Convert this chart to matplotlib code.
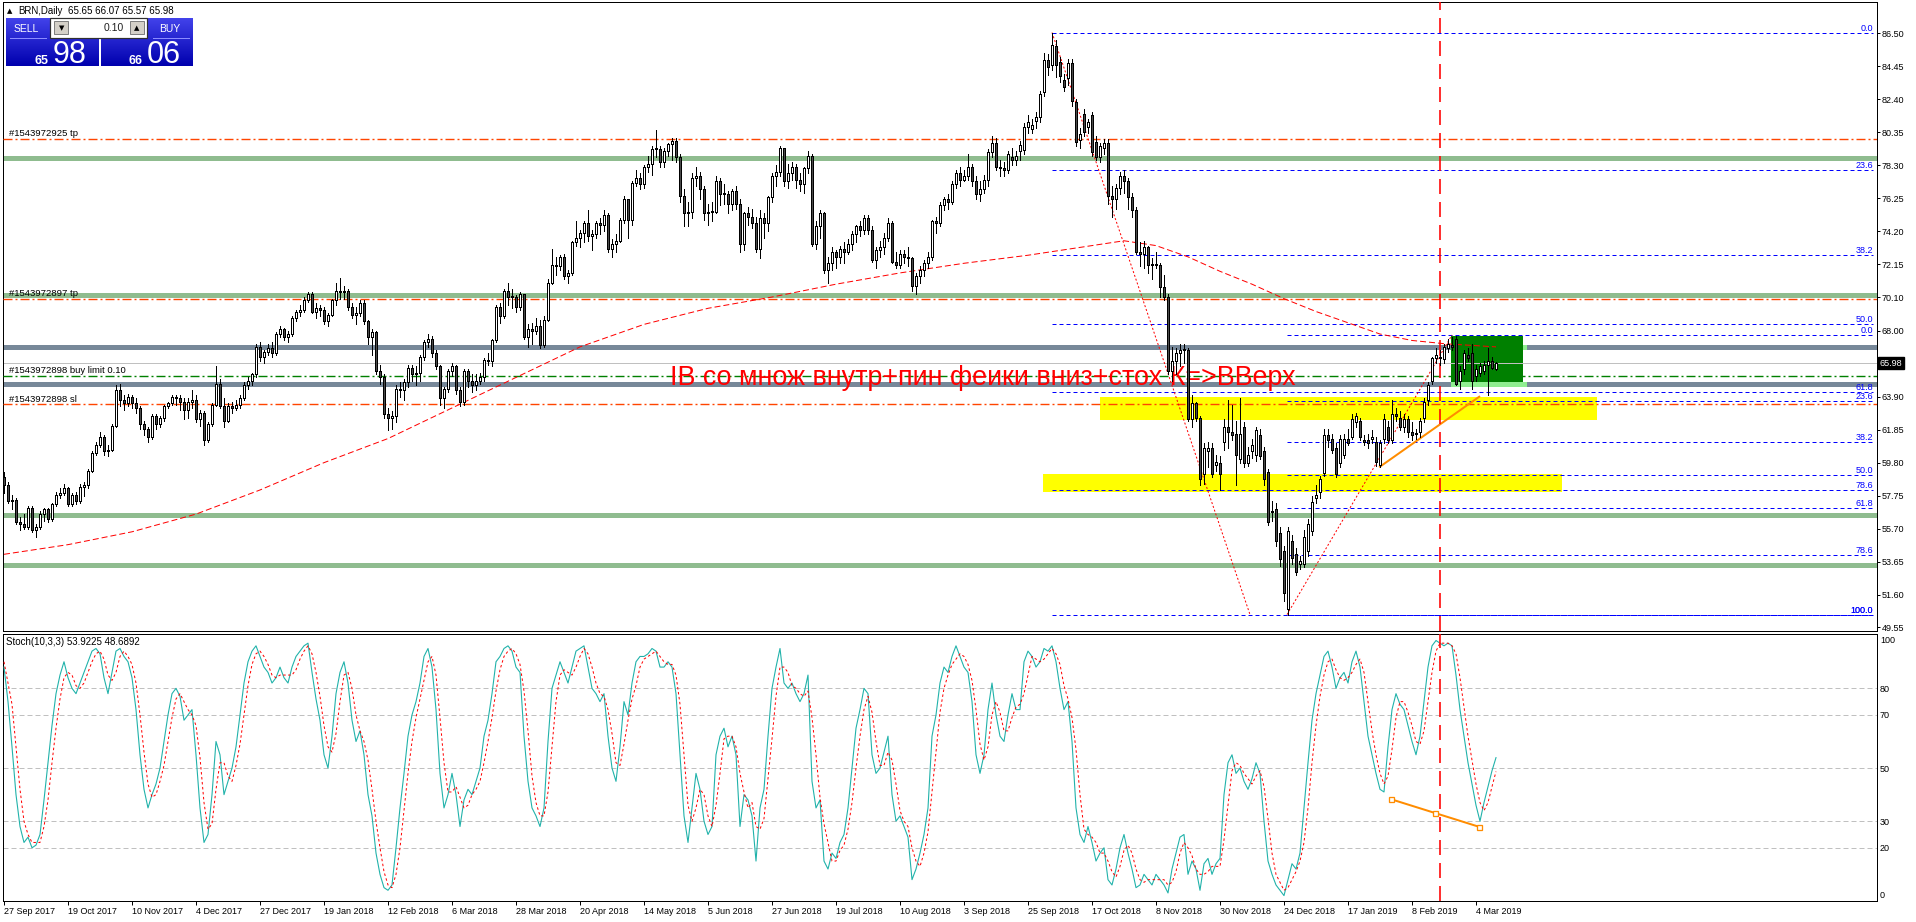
import numpy as np
import matplotlib
matplotlib.use("Agg")
import matplotlib.pyplot as plt
from matplotlib.patches import Rectangle

plt.rcParams['lines.scale_dashes'] = False
plt.rcParams['font.family'] = ['Liberation Sans', 'DejaVu Sans']

W, H = 1916, 922
PX = 0.72  # points per pixel at 100 dpi

# ---------------- data ----------------
date_labels = ["27 Sep 2017", "19 Oct 2017", "10 Nov 2017", "4 Dec 2017", "27 Dec 2017",
               "19 Jan 2018", "12 Feb 2018", "6 Mar 2018", "28 Mar 2018", "20 Apr 2018",
               "14 May 2018", "5 Jun 2018", "27 Jun 2018", "19 Jul 2018", "10 Aug 2018",
               "3 Sep 2018", "25 Sep 2018", "17 Oct 2018", "8 Nov 2018", "30 Nov 2018",
               "24 Dec 2018", "17 Jan 2019", "8 Feb 2019", "4 Mar 2019"]

opens = [
    58.9, 58.4, 57.4, 57.5, 56.1, 56.0, 55.8, 57.0, 55.6, 55.8, 56.6, 56.9, 56.3, 57.2, 57.8, 57.9,
    58.2, 57.2, 57.8, 57.4, 58.3, 58.4, 59.3, 60.4, 60.9, 61.4, 60.5, 60.6, 62.1, 64.3, 63.7, 63.5,
    63.9, 63.5, 63.2, 62.2, 61.9, 61.4, 62.7, 62.2, 62.6, 63.3, 63.5, 63.9, 63.8, 63.6, 63.1, 63.6,
    63.7, 62.5, 62.9, 61.2, 62.2, 63.4, 64.7, 63.3, 62.4, 63.3, 63.2, 63.4, 63.8, 64.6, 64.9, 65.3,
    67.0, 66.4, 66.7, 66.9, 66.6, 67.8, 68.1, 67.6, 67.8, 68.8, 69.2, 69.3, 69.9, 70.3, 69.2, 69.4,
    69.3, 68.6, 69.0, 69.9, 70.5, 70.4, 70.5, 69.5, 69.0, 69.1, 69.7, 68.6, 67.6, 67.9, 65.5, 65.1,
    62.8, 62.6, 62.7, 64.4, 64.3, 64.8, 65.7, 65.3, 65.4, 66.4, 67.3, 67.5, 66.6, 65.8, 63.8, 64.4,
    65.5, 65.8, 64.3, 63.6, 65.5, 64.9, 64.6, 64.9, 65.1, 66.2, 66.1, 67.4, 69.5, 68.9, 70.5, 70.1,
    70.1, 69.5, 70.3, 67.6, 68.1, 68.0, 68.3, 67.1, 68.7, 71.0, 72.1, 72.0, 72.6, 71.4, 71.6, 73.5,
    73.8, 74.1, 74.7, 73.9, 74.0, 74.7, 74.6, 75.2, 73.1, 73.4, 73.6, 74.9, 76.2, 74.9, 77.2, 77.5,
    77.1, 78.2, 78.4, 79.3, 79.3, 78.5, 79.2, 79.6, 79.8, 78.8, 76.4, 75.3, 75.4, 77.5, 77.6, 76.8,
    75.3, 75.4, 75.4, 77.3, 76.5, 76.5, 75.9, 76.7, 75.9, 73.4, 75.3, 75.1, 74.7, 73.1, 75.0, 74.7,
    76.3, 77.6, 77.9, 79.4, 77.3, 77.8, 78.2, 77.4, 77.1, 78.1, 78.9, 73.4, 74.5, 75.3, 71.8, 72.2,
    72.9, 72.6, 73.1, 72.9, 73.4, 74.0, 74.5, 74.3, 75.0, 74.3, 72.4, 73.0, 73.2, 73.8, 74.7, 72.3,
    72.1, 72.8, 72.6, 72.5, 70.8, 71.4, 71.8, 72.2, 72.6, 74.8, 74.7, 75.8, 76.2, 76.0, 77.1, 77.8,
    77.4, 77.6, 78.2, 77.3, 76.5, 76.8, 77.4, 79.1, 79.7, 78.2, 78.1, 78.0, 78.8, 78.65, 79.2, 79.24,
    80.7, 80.55, 81.06, 81.28, 82.87, 84.84, 84.53, 85.71, 84.73, 83.6, 83.7, 84.63, 82.25, 79.86, 81.48, 80.69,
    81.42, 79.76, 78.8, 79.35, 79.66, 76.4, 76.2, 76.9, 77.6, 77.3, 76.3, 75.5, 72.9, 72.8, 73.2, 72.1,
    72.1, 72.1, 70.7, 70.1, 65.5, 66.1, 66.6, 66.8, 66.8, 62.5, 63.5, 62.6, 59.1, 60.5, 60.7, 59.65,
    59.8, 61.1, 62.0, 61.7, 61.6, 60.0, 62.0, 59.8, 60.5, 60.3, 61.5, 60.5, 59.2, 56.8, 56.9, 55.4,
    54.3, 50.7, 54.9, 54.1, 53.5, 53.5, 54.3, 55.56, 57.6, 58.0, 59.13, 61.54, 61.3, 60.7, 59.75, 60.3,
    61.3, 61.4, 62.3, 62.4, 61.2, 61.2, 61.3, 61.1, 59.65, 61.3, 62.0, 61.2, 62.8, 62.6, 62.0, 62.5,
    61.7, 61.6, 61.7, 62.6, 63.7, 64.9, 66.3, 66.4, 66.25, 66.9, 67.1, 67.5, 64.9, 65.6, 66.5, 66.6,
    65.2, 65.4, 65.5, 65.9, 66.1, 65.65]

highs = [
    59.2, 58.6, 57.8, 57.6, 56.4, 56.6, 57.1, 57.1, 56.0, 56.8, 57.0, 57.0, 57.3, 58.0, 58.2, 58.5,
    58.3, 57.9, 58.0, 58.5, 58.6, 59.4, 60.5, 61.1, 61.7, 61.5, 60.9, 62.2, 64.6, 64.7, 64.0, 64.1,
    64.0, 63.8, 63.3, 62.4, 62.0, 62.8, 62.8, 62.7, 63.4, 63.6, 64.0, 64.0, 64.0, 63.8, 63.8, 64.3,
    64.0, 63.1, 63.0, 62.3, 63.5, 65.8, 65.0, 63.8, 63.5, 63.6, 63.7, 64.0, 64.8, 65.1, 65.4, 67.2,
    67.3, 66.8, 67.2, 67.3, 67.9, 68.3, 68.2, 68.0, 68.9, 69.3, 69.6, 70.1, 70.4, 70.4, 69.7, 69.6,
    69.5, 69.1, 70.0, 71.0, 71.3, 70.8, 70.6, 69.7, 69.5, 69.9, 69.9, 68.7, 68.1, 68.0, 65.9, 65.3,
    63.2, 63.0, 64.6, 64.8, 65.0, 65.9, 65.9, 65.8, 66.5, 67.4, 67.8, 67.7, 66.8, 65.9, 64.5, 65.6,
    66.0, 65.9, 64.5, 65.6, 65.6, 65.3, 65.3, 65.4, 66.3, 66.6, 67.5, 69.6, 69.7, 70.6, 71.0, 70.6,
    70.2, 70.4, 70.3, 68.4, 68.5, 68.8, 68.7, 68.9, 71.2, 73.1, 72.6, 72.7, 72.8, 71.8, 73.6, 74.8,
    74.3, 74.8, 75.5, 74.3, 74.8, 75.0, 75.5, 75.3, 73.7, 74.0, 75.0, 76.4, 76.2, 77.3, 78.0, 77.8,
    78.3, 78.9, 79.5, 80.5, 79.5, 79.4, 79.7, 80.0, 80.0, 79.0, 76.8, 76.0, 77.8, 78.2, 77.9, 77.0,
    75.9, 76.0, 77.6, 77.5, 77.1, 76.7, 76.8, 77.0, 76.2, 75.4, 75.7, 75.6, 75.1, 75.5, 75.3, 76.4,
    77.8, 78.3, 79.5, 79.4, 78.4, 78.5, 78.4, 77.8, 78.2, 79.2, 79.0, 74.8, 75.5, 75.4, 72.6, 73.2,
    73.0, 73.3, 73.5, 73.7, 74.2, 74.6, 74.8, 75.2, 75.2, 74.5, 73.2, 73.6, 74.1, 75.0, 74.8, 72.9,
    73.0, 73.0, 73.2, 72.6, 71.6, 72.0, 72.4, 72.9, 74.9, 75.1, 76.0, 76.3, 76.5, 77.3, 78.0, 78.2,
    78.0, 79.0, 78.4, 77.6, 77.3, 77.7, 79.3, 80.1, 80.0, 78.6, 78.5, 79.2, 79.4, 79.2, 79.8, 80.9,
    81.4, 81.2, 81.6, 82.9, 85.26, 85.2, 86.5, 86.1, 85.0, 84.0, 84.9, 84.9, 82.4, 80.6, 81.8, 81.2,
    81.6, 80.1, 79.7, 79.9, 79.9, 77.0, 77.1, 77.9, 78.0, 77.5, 76.6, 75.7, 73.5, 73.6, 73.3, 72.5,
    72.9, 72.2, 71.5, 70.3, 67.0, 66.9, 67.2, 67.2, 66.9, 64.0, 63.6, 62.7, 61.0, 61.1, 61.0, 60.3,
    60.2, 62.5, 63.7, 63.4, 62.4, 63.8, 62.3, 60.8, 61.3, 62.0, 61.9, 60.8, 59.4, 57.4, 57.3, 55.8,
    54.6, 55.8, 55.3, 54.5, 54.0, 55.6, 56.3, 57.7, 58.4, 59.0, 61.9, 61.9, 61.6, 61.0, 61.5, 61.6,
    61.9, 62.8, 62.9, 62.6, 61.5, 61.6, 61.8, 61.4, 61.2, 62.8, 62.4, 63.7, 63.2, 63.0, 62.8, 62.7,
    62.3, 61.9, 62.6, 63.8, 64.8, 66.4, 66.9, 66.8, 67.2, 67.5, 67.6, 67.7, 65.8, 66.8, 66.9, 67.2,
    65.9, 66.0, 66.1, 66.9, 66.4, 66.07]

lows = [
    57.9, 57.3, 56.9, 56.0, 55.6, 55.7, 55.7, 55.5, 55.2, 55.7, 56.2, 56.1, 56.2, 57.1, 57.6, 57.8,
    57.1, 57.1, 57.2, 57.3, 57.7, 58.2, 59.2, 60.3, 60.8, 60.3, 60.2, 60.5, 62.0, 63.3, 63.1, 63.3,
    63.2, 62.9, 61.9, 61.5, 61.1, 61.3, 61.9, 62.0, 62.4, 63.2, 63.4, 63.4, 63.1, 62.5, 62.6, 63.2,
    62.3, 62.1, 60.9, 61.1, 62.1, 63.3, 63.2, 62.0, 62.3, 62.9, 63.1, 63.2, 63.7, 64.4, 64.6, 65.1,
    66.1, 66.0, 66.5, 66.4, 66.5, 67.6, 67.4, 67.3, 67.7, 68.6, 68.9, 69.2, 69.8, 69.1, 68.8, 68.9,
    68.4, 68.3, 68.9, 69.6, 70.0, 70.0, 69.3, 68.8, 68.4, 68.9, 68.4, 67.2, 66.5, 65.3, 64.7, 62.6,
    61.8, 61.9, 62.3, 63.9, 63.7, 64.5, 64.9, 64.6, 64.9, 66.2, 67.0, 66.4, 65.6, 63.4, 63.2, 64.2,
    65.2, 64.1, 63.3, 63.4, 64.5, 64.2, 64.3, 64.7, 64.9, 65.9, 65.8, 67.3, 68.5, 68.8, 69.6, 69.4,
    69.2, 69.3, 67.5, 67.0, 67.2, 67.8, 66.9, 67.0, 68.6, 70.9, 71.5, 71.8, 71.2, 71.0, 71.5, 73.3,
    73.2, 73.5, 73.6, 73.0, 73.8, 74.0, 74.2, 72.9, 72.6, 72.9, 73.5, 74.7, 73.8, 74.6, 77.0, 76.8,
    76.9, 77.9, 77.7, 78.8, 78.2, 78.2, 78.9, 78.6, 78.5, 76.0, 74.5, 74.5, 75.0, 77.0, 76.2, 74.9,
    74.6, 74.8, 75.3, 75.8, 75.9, 75.3, 75.5, 75.6, 72.9, 73.0, 74.6, 74.4, 72.9, 72.5, 73.8, 74.2,
    76.0, 77.0, 77.6, 77.0, 76.9, 77.4, 76.9, 76.7, 76.6, 77.8, 73.3, 73.1, 73.8, 71.6, 71.0, 71.8,
    71.9, 72.2, 72.2, 72.8, 73.0, 73.5, 73.9, 74.0, 74.0, 72.3, 71.9, 72.6, 72.8, 73.6, 72.2, 71.9,
    71.9, 72.2, 72.0, 70.5, 70.3, 71.0, 71.4, 71.9, 72.4, 74.1, 74.5, 75.5, 75.6, 75.9, 76.9, 77.0,
    77.3, 77.4, 77.0, 76.2, 76.1, 76.6, 77.0, 78.8, 78.0, 77.6, 77.6, 77.8, 78.3, 78.3, 78.6, 79.0,
    80.3, 80.3, 80.6, 81.0, 82.6, 83.9, 84.2, 83.8, 83.5, 82.9, 83.3, 82.0, 79.5, 79.4, 80.1, 80.3,
    78.9, 78.6, 78.5, 79.0, 75.9, 75.1, 75.6, 76.5, 76.6, 75.6, 75.1, 72.8, 72.0, 71.9, 71.6, 71.2,
    71.9, 70.1, 69.9, 65.3, 64.9, 65.3, 65.8, 66.0, 62.4, 62.0, 62.4, 58.4, 58.5, 59.5, 58.9, 59.3,
    58.1, 60.6, 60.7, 61.2, 58.4, 59.8, 59.5, 59.6, 60.1, 59.9, 60.0, 58.4, 55.9, 56.2, 54.6, 53.4,
    51.2, 50.35, 53.5, 52.8, 53.2, 53.3, 54.0, 55.3, 57.3, 57.6, 59.0, 60.8, 60.4, 58.9, 59.5, 60.1,
    60.9, 61.3, 62.0, 61.2, 60.9, 60.7, 61.0, 59.6, 59.5, 61.0, 61.0, 61.0, 62.4, 61.8, 61.7, 61.4,
    61.2, 61.3, 61.4, 62.3, 63.4, 64.7, 66.0, 65.9, 66.0, 66.7, 66.8, 64.6, 64.4, 65.3, 66.1, 64.4,
    64.9, 65.2, 65.3, 64.0, 65.6, 65.57]

closes = [
    58.4, 57.4, 57.5, 56.1, 56.0, 55.8, 57.0, 55.6, 55.8, 56.6, 56.9, 56.3, 57.2, 57.8, 57.9, 58.2,
    57.2, 57.8, 57.4, 58.3, 58.4, 59.3, 60.4, 60.9, 61.4, 60.5, 60.6, 62.1, 64.3, 63.7, 63.5, 63.9,
    63.5, 63.2, 62.2, 61.9, 61.4, 62.7, 62.2, 62.6, 63.3, 63.5, 63.9, 63.8, 63.6, 63.1, 63.6, 63.7,
    62.5, 62.9, 61.2, 62.2, 63.4, 64.7, 63.3, 62.4, 63.3, 63.2, 63.4, 63.8, 64.6, 64.9, 65.3, 67.0,
    66.4, 66.7, 66.9, 66.6, 67.8, 68.1, 67.6, 67.8, 68.8, 69.2, 69.3, 69.9, 70.3, 69.2, 69.4, 69.3,
    68.6, 69.0, 69.9, 70.5, 70.4, 70.5, 69.5, 69.0, 69.1, 69.7, 68.6, 67.6, 67.9, 65.5, 65.1, 62.8,
    62.6, 62.7, 64.4, 64.3, 64.8, 65.7, 65.3, 65.4, 66.4, 67.3, 67.5, 66.6, 65.8, 63.8, 64.4, 65.5,
    65.8, 64.3, 63.6, 65.5, 64.9, 64.6, 64.9, 65.1, 66.2, 66.1, 67.4, 69.5, 68.9, 70.5, 70.1, 70.1,
    69.5, 70.3, 67.6, 68.1, 68.0, 68.3, 67.1, 68.7, 71.0, 72.1, 72.0, 72.6, 71.4, 71.6, 73.5, 73.8,
    74.1, 74.7, 73.9, 74.0, 74.7, 74.6, 75.2, 73.1, 73.4, 73.6, 74.9, 76.2, 74.9, 77.2, 77.5, 77.1,
    78.2, 78.4, 79.3, 79.3, 78.5, 79.2, 79.6, 79.8, 78.8, 76.4, 75.3, 75.4, 77.5, 77.6, 76.8, 75.3,
    75.4, 75.4, 77.3, 76.5, 76.5, 75.9, 76.7, 75.9, 73.4, 75.3, 75.1, 74.7, 73.1, 75.0, 74.7, 76.3,
    77.6, 77.9, 79.4, 77.3, 77.8, 78.2, 77.4, 77.1, 78.1, 78.9, 73.4, 74.5, 75.3, 71.8, 72.2, 72.9,
    72.6, 73.1, 72.9, 73.4, 74.0, 74.5, 74.3, 75.0, 74.3, 72.4, 73.0, 73.2, 73.8, 74.7, 72.3, 72.1,
    72.8, 72.6, 72.5, 70.8, 71.4, 71.8, 72.2, 72.6, 74.8, 74.7, 75.8, 76.2, 76.0, 77.1, 77.8, 77.4,
    77.6, 78.2, 77.3, 76.5, 76.8, 77.4, 79.1, 79.7, 78.2, 78.1, 78.0, 79.0, 78.65, 78.9, 79.55, 80.69,
    81.0, 80.8, 81.31, 82.73, 84.84, 84.39, 85.77, 84.53, 83.84, 83.18, 84.63, 82.31, 79.76, 80.24, 80.38, 80.96,
    79.14, 78.83, 79.5, 79.7, 76.4, 76.2, 76.9, 77.6, 77.3, 76.3, 75.5, 72.9, 72.8, 73.2, 72.1, 72.1,
    72.1, 70.7, 70.1, 65.5, 66.1, 66.6, 66.8, 66.8, 62.5, 63.5, 62.6, 58.8, 60.7, 60.7, 59.1, 59.85,
    59.1, 62.0, 61.7, 61.5, 60.3, 61.6, 59.75, 60.3, 60.9, 61.8, 60.2, 58.8, 56.1, 56.7, 54.9, 53.8,
    51.7, 55.56, 53.9, 53.0, 53.66, 55.15, 55.97, 57.37, 57.8, 58.76, 61.54, 61.2, 60.6, 59.1, 61.3, 61.3,
    61.0, 62.5, 62.7, 61.4, 61.1, 61.0, 61.4, 59.85, 61.0, 62.5, 61.2, 62.85, 62.7, 62.0, 62.5, 61.7,
    61.5, 61.6, 62.4, 63.57, 64.6, 66.3, 66.5, 66.3, 66.98, 67.2, 67.0, 64.7, 65.5, 66.6, 66.3, 64.9,
    65.6, 65.8, 65.9, 66.1, 65.7, 65.98]

stoch_k = [
    88, 75, 58, 40, 28, 22, 24, 20, 21, 25, 38, 52, 66, 78, 85, 90,
    84, 80, 78, 82, 86, 90, 94, 95, 93, 84, 78, 86, 94, 95, 92, 90,
    84, 72, 55, 42, 35, 40, 44, 50, 60, 70, 78, 80, 77, 68, 70, 72,
    55, 35, 22, 25, 40, 60, 55, 40, 45, 50, 58, 70, 82, 90, 94, 96,
    92, 88, 86, 82, 84, 88, 84, 82, 88, 92, 94, 96, 97, 86, 76, 68,
    55, 50, 62, 78, 86, 90, 82, 68, 60, 64, 55, 40, 32, 18, 10, 5,
    4, 6, 20, 35, 48, 62, 70, 75, 82, 92, 95, 88, 72, 48, 35, 40,
    48, 40, 28, 38, 42, 40, 45, 50, 62, 68, 78, 90, 92, 95, 96, 94,
    88, 86, 62, 45, 35, 32, 28, 35, 60, 80, 85, 90, 86, 82, 88, 94,
    95, 96, 88, 80, 78, 75, 78, 62, 50, 45, 58, 75, 70, 82, 90, 92,
    92, 93, 95, 94, 88, 88, 90, 88, 78, 55, 32, 22, 35, 48, 42, 30,
    25, 28, 55, 62, 65, 58, 62, 55, 28, 40, 38, 32, 15, 35, 42, 62,
    80, 88, 95, 82, 80, 82, 78, 75, 78, 85, 45, 35, 38, 15, 12, 18,
    16, 22, 25, 35, 50, 65, 72, 80, 78, 55, 48, 50, 56, 62, 40, 30,
    32, 28, 24, 8, 12, 18, 25, 35, 62, 70, 82, 88, 86, 92, 96, 92,
    88, 86, 75, 55, 48, 55, 72, 82, 70, 62, 60, 70, 78, 72, 72, 90,
    94, 92, 88, 90, 95, 94, 96, 90, 80, 72, 75, 60, 35, 25, 22, 28,
    22, 15, 18, 20, 8, 6, 12, 20, 25, 18, 12, 5, 6, 10, 8, 6,
    10, 8, 6, 3, 12, 18, 24, 25, 10, 15, 12, 4, 14, 16, 10, 14,
    16, 40, 52, 55, 48, 50, 45, 42, 46, 52, 48, 30, 15, 10, 6, 4,
    2, 8, 14, 12, 18, 35, 52, 68, 78, 85, 92, 94, 88, 80, 84, 86,
    82, 90, 94, 88, 75, 62, 55, 48, 42, 41, 58, 72, 78, 74, 72, 66,
    60, 55, 62, 75, 88, 96, 98, 97, 96, 97, 96, 85, 72, 62, 52, 44,
    36, 30, 37, 43, 49, 53.92]

stoch_d = [
    90, 82, 74, 58, 42, 30, 25, 22, 22, 22, 28, 38, 52, 65, 76, 84,
    86, 85, 81, 80, 82, 86, 90, 93, 94, 91, 85, 83, 86, 92, 94, 92,
    89, 82, 70, 56, 44, 39, 40, 45, 51, 60, 69, 76, 78, 75, 72, 70,
    66, 54, 37, 27, 29, 42, 52, 52, 47, 45, 51, 59, 70, 81, 89, 93,
    94, 92, 89, 85, 84, 85, 85, 85, 85, 87, 91, 94, 96, 93, 86, 77,
    66, 58, 56, 63, 75, 85, 86, 80, 70, 64, 60, 53, 42, 30, 20, 11,
    6, 5, 10, 20, 34, 48, 60, 69, 76, 83, 90, 92, 85, 69, 52, 41,
    41, 43, 39, 35, 36, 40, 42, 45, 52, 60, 69, 79, 87, 92, 94, 95,
    93, 89, 79, 64, 47, 37, 32, 32, 41, 58, 75, 85, 87, 86, 85, 88,
    92, 95, 93, 88, 82, 78, 77, 72, 63, 52, 51, 59, 68, 76, 81, 88,
    91, 92, 93, 94, 92, 90, 89, 89, 85, 74, 55, 36, 30, 35, 42, 40,
    32, 28, 36, 48, 61, 62, 62, 58, 48, 41, 35, 37, 28, 27, 31, 46,
    61, 77, 88, 88, 86, 81, 80, 78, 77, 79, 69, 55, 39, 29, 22, 15,
    15, 19, 21, 27, 37, 50, 62, 72, 77, 71, 60, 51, 51, 56, 53, 44,
    34, 30, 28, 20, 15, 13, 18, 26, 41, 56, 71, 80, 85, 89, 91, 93,
    92, 89, 83, 72, 59, 53, 58, 70, 75, 71, 64, 64, 69, 73, 74, 78,
    85, 92, 91, 90, 91, 93, 95, 93, 89, 81, 76, 69, 57, 40, 27, 25,
    24, 22, 18, 18, 15, 11, 9, 13, 19, 21, 18, 12, 8, 7, 8, 8,
    8, 8, 8, 6, 7, 11, 18, 22, 20, 17, 12, 10, 10, 11, 13, 13,
    13, 23, 36, 49, 52, 51, 48, 46, 44, 47, 49, 43, 31, 18, 10, 7,
    4, 5, 8, 11, 15, 22, 35, 52, 66, 77, 85, 90, 91, 87, 84, 83,
    84, 86, 89, 91, 86, 75, 64, 55, 48, 44, 47, 57, 69, 75, 75, 71,
    66, 60, 59, 64, 75, 86, 94, 97, 97, 97, 96, 93, 84, 73, 62, 53,
    44, 37, 34, 37, 43, 48.69]

# moving average read at sample bars
ma_idx = [0, 16, 32, 48, 64, 80, 96, 112, 128, 144, 160, 176, 192, 208, 224, 240, 256, 264,
          272, 280, 288, 296, 304, 312, 320, 328, 336, 344, 352, 360, 373]
ma_val = [54.1, 54.7, 55.5, 56.6, 58.1, 59.8, 61.3, 63.2, 65.1, 67.0, 68.4, 69.4, 70.1, 70.9,
          71.6, 72.2, 72.7, 73.0, 73.3, 73.6, 73.3, 72.6, 71.7, 70.9, 70.0, 69.2, 68.5, 67.8,
          67.4, 67.2, 67.0]

price_ticks = [86.50, 84.45, 82.40, 80.35, 78.30, 76.25, 74.20, 72.15, 70.10, 68.00,
               63.90, 61.85, 59.80, 57.75, 55.70, 53.65, 51.60, 49.55]
current_price = 65.98

green_levels = [78.76, 70.23, 56.54, 53.43]
gray_levels = [66.99, 64.69]
order_lines = [(79.93, "#1543972925 tp", "#ff4500"),
               (69.98, "#1543972897 tp", "#ff4500"),
               (65.19, "#1543972898 buy limit 0.10", "#008000"),
               (63.43, "#1543972898 sl", "#ff4500")]

fib_levels = [0.0, 23.6, 38.2, 50.0, 61.8, 78.6, 100.0]
fibA = dict(t0=262, t1=311.5, hi=86.55, lo=50.35, down=True)     # drawn high -> low
fibB = dict(t0=320.75, t1=362, hi=67.74, lo=50.35, down=False)   # drawn low -> high
fib_end = 467.3

yellow_rects = [(274, 398.3, 62.47, 63.87), (259.75, 389.5, 58.0, 59.1)]
green_box = (361.75, 379.75, 64.83, 67.69)
green_box_edge = 380.75
trend_main = ([344, 368.8], [59.55, 63.9])
trend_stoch = ([346.7, 368.75], [38.3, 27.9])
vline_idx = 358.9

# ---------------- figure ----------------
fig = plt.figure(figsize=(W / 100, H / 100), dpi=100)
fig.patch.set_facecolor('white')


def pax(l, t, r, b):
    return fig.add_axes([l / W, 1 - b / H, (r - l) / W, (b - t) / H])


ax = pax(3, 2, 1877, 631)
ax2 = pax(3, 634, 1877, 901)
XMIN, XMAX = -0.25, 468.25
for a in (ax, ax2):
    a.set_xlim(XMIN, XMAX)
    for s in a.spines.values():
        s.set_linewidth(PX)
        s.set_color('black')
ax.set_ylim(49.33, 88.45)
ax2.set_ylim(-0.03, 100.45)

idx = np.arange(len(closes))
o = np.array(opens); hh = np.array(highs); ll = np.array(lows); c = np.array(closes)
hh = np.maximum(hh, np.maximum(o, c)); ll = np.minimum(ll, np.minimum(o, c))

# thick horizontal lines
GH = 0.155  # half thickness of thick lines in price units (about 2.5 px)
for lv in green_levels:
    ax.axhline(lv, color='#8fbc8f', lw=5 * PX, zorder=1)
for lv in gray_levels:
    ax.axhline(lv, color='#778899', lw=5 * PX, zorder=1)

# rectangles
for (x0, x1, p0, p1) in yellow_rects:
    ax.add_patch(Rectangle((x0, p0), x1 - x0, p1 - p0, fc='#ffff00', ec='none', zorder=1.5))
bx0, bx1, bp0, bp1 = green_box
ax.add_patch(Rectangle((bx0, gray_levels[1] - GH), green_box_edge - bx0, 2 * GH,
                       fc='#90ee90', ec='none', zorder=1.6))
ax.add_patch(Rectangle((bx1, gray_levels[0] - GH), green_box_edge - bx1, 2 * GH,
                       fc='#90ee90', ec='none', zorder=1.6))
ax.add_patch(Rectangle((bx0, bp0), bx1 - bx0, bp1 - bp0, fc='#008000', ec='none', zorder=1.7))

# current price line
ax.axhline(current_price, color='#c0c0c0', lw=PX, zorder=2)

# order lines
for (lv, lab, col) in order_lines:
    ax.axhline(lv, color=col, lw=1.4 * PX, ls=(0, (9 * PX, 3 * PX, 2 * PX, 3 * PX)), zorder=3)
    ax.annotate(lab, xy=(0, lv), xycoords=ax.get_yaxis_transform(), xytext=(6, 2.5),
                textcoords='offset pixels', ha='left', va='baseline', fontsize=6.8,
                color='black', zorder=3)

# fibonacci
blue_dash = (0, (4 * PX, 3 * PX))
for fib in (fibA, fibB):
    for lv in fib_levels:
        if fib['down']:
            p = fib['hi'] - (fib['hi'] - fib['lo']) * lv / 100.0
        else:
            p = fib['hi'] - (fib['hi'] - fib['lo']) * lv / 100.0
        ax.hlines(p, min(fib['t0'], fib['t1']), fib_end, colors='#0000ff', lw=PX,
                  linestyles=[blue_dash], zorder=3)
        ax.text(fib_end, p, "%.1f" % lv, color='#0000ff', fontsize=6.5, ha='right',
                va='bottom', zorder=3)
    if fib['down']:
        ax.plot([fib['t0'], fib['t1']], [fib['hi'], fib['lo']], color='#ff0000', lw=PX,
                ls=(0, (2 * PX, 2 * PX)), zorder=3.5)
    else:
        ax.plot([fib['t0'], fib['t1']], [fib['lo'], fib['hi']], color='#ff0000', lw=PX,
                ls=(0, (2 * PX, 2 * PX)), zorder=3.5)

# moving average
ax.plot(ma_idx, ma_val, color='#ff0000', lw=PX, ls=(0, (6 * PX, 3 * PX)), zorder=4)

# trend line
ax.plot(trend_main[0], trend_main[1], color='#ff8c00', lw=2 * PX, zorder=4)

# vertical line
for a in (ax, ax2):
    a.axvline(vline_idx, color='#ff0000', lw=1.6 * PX, ls=(0, (15 * PX, 8 * PX)), zorder=4)

# big text
ax.text(166.5, 64.65, "IB со множ внутр+пин феики вниз+стох К=>ВВерх", color='#ff0000',
        fontsize=19.4, ha='left', va='baseline', zorder=4.5)

# candles (crisp, like the terminal)
ax.vlines(idx, ll, hh, color='black', lw=1.0 * PX, zorder=5, antialiased=False)
up = c >= o
lo = np.minimum(o, c)
bh = np.maximum(np.abs(c - o), 0.05)
ax.bar(idx[up], bh[up], bottom=lo[up], width=0.6, color='white', edgecolor='black',
       linewidth=PX, zorder=6, antialiased=False)
ax.bar(idx[~up], bh[~up], bottom=lo[~up], width=0.6, color='#4a4a4a', edgecolor='black',
       linewidth=PX, zorder=6, antialiased=False)

# price axis
ax.yaxis.tick_right()
ax.set_yticks(price_ticks)
ax.set_yticklabels(["%.2f" % t for t in price_ticks], fontsize=6.5)
ax.tick_params(axis='y', length=3 * PX, width=PX, pad=2 * PX, direction='out')
ax.set_xticks([])
ax.annotate("%.2f" % current_price, xy=(1, current_price), xycoords=ax.get_yaxis_transform(),
            xytext=(3, 0), textcoords='offset pixels', ha='left', va='center', color='white',
            fontsize=6.5, bbox=dict(boxstyle='square,pad=0.18', fc='black', ec='black'),
            annotation_clip=False, zorder=10)

# stochastic
for lv in [80, 70, 50, 30, 20]:
    ax2.axhline(lv, color='#c0c0c0', lw=PX, ls=(0, (5 * PX, 3 * PX)), zorder=1)
ax2.plot(idx, stoch_k, color='#20b2aa', lw=PX * 1.1, zorder=3)
ax2.plot(idx, stoch_d, color='#ff0000', lw=PX, ls=(0, (2.5 * PX, 2.5 * PX)), zorder=3)
ax2.plot(trend_stoch[0], trend_stoch[1], color='#ff8c00', lw=2 * PX, zorder=4)
mx = [trend_stoch[0][0], (trend_stoch[0][0] + trend_stoch[0][1]) / 2, trend_stoch[0][1]]
my = [trend_stoch[1][0], (trend_stoch[1][0] + trend_stoch[1][1]) / 2, trend_stoch[1][1]]
ax2.plot(mx, my, 's', mfc='white', mec='#ff8c00', ms=3.6, mew=1.3 * PX, zorder=5)

ax2.yaxis.tick_right()
ax2.set_yticks([80, 70, 50, 30, 20])
ax2.set_yticklabels(["80", "70", "50", "30", "20"], fontsize=6.5)
ax2.tick_params(axis='y', length=0, pad=3 * PX)
ax2.set_xticks(np.arange(0, 16 * len(date_labels), 16))
ax2.set_xticklabels(date_labels, fontsize=6.5, ha='left')
ax2.tick_params(axis='x', length=4 * PX, width=PX, pad=1.5 * PX)

# ---------------- overlay (pixel coordinates) ----------------
ov = fig.add_axes([0, 0, 1, 1], zorder=20)
ov.set_xlim(0, W); ov.set_ylim(H, 0); ov.axis('off')


def grad_box(x0, x1, y0, y1, top, bottom):
    t = np.linspace(0, 1, 64)[:, None]
    col = (1 - t) * np.array(top) + t * np.array(bottom)
    img = np.repeat(col[:, None, :], 2, axis=1)
    ov.imshow(img, extent=(x0, x1, y1, y0), aspect='auto', interpolation='bilinear', zorder=1)


grad_box(6, 99, 18, 66, (0.26, 0.26, 0.92), (0.0, 0.0, 0.68))
grad_box(101, 193, 18, 66, (0.26, 0.26, 0.92), (0.0, 0.0, 0.68))
ov.set_xlim(0, W); ov.set_ylim(H, 0)
ov.plot([10, 46], [37.7, 37.7], color='#8c8cff', lw=PX, zorder=2)
ov.plot([153, 189], [37.7, 37.7], color='#8c8cff', lw=PX, zorder=2)
ov.add_patch(Rectangle((50, 18), 97, 20, fc='white', ec='#303030', lw=1.2 * PX, zorder=3))
for bx, g in ((54.5, '\u25bc'), (130, '\u25b2')):
    ov.add_patch(Rectangle((bx, 21), 14, 13.5, fc='#d4d0c8', ec='#808080', lw=PX, zorder=4))
    ov.text(bx + 7, 28, g, fontsize=5, ha='center', va='center', family='DejaVu Sans',
            color='black', zorder=5)
ov.text(124, 31, "0.10", fontsize=7.5, ha='right', va='baseline', color='#202020', zorder=5)
ov.text(26, 32.5, "SELL", fontsize=7.5, ha='center', va='baseline', color='white', zorder=5)
ov.text(170, 32.5, "BUY", fontsize=7.5, ha='center', va='baseline', color='white', zorder=5)
ov.text(69.5, 63, "98", fontsize=22, ha='center', va='baseline', color='white', zorder=5)
ov.text(42, 64, "65", fontsize=9, ha='center', va='baseline', color='white',
        fontweight='bold', zorder=5)
ov.text(163.5, 63, "06", fontsize=22, ha='center', va='baseline', color='white', zorder=5)
ov.text(136, 64, "66", fontsize=9, ha='center', va='baseline', color='white',
        fontweight='bold', zorder=5)

ov.text(10, 13.5, "\u25b2", fontsize=5, ha='center', va='baseline', family='DejaVu Sans',
        color='black', zorder=5)
ov.text(18, 13.5, "BRN,Daily", fontsize=7, ha='left', va='baseline', color='black', zorder=5)
ov.text(68, 13.5, "65.65 66.07 65.57 65.98", fontsize=7, ha='left', va='baseline',
        color='black', zorder=5)

ov.text(6, 645, "Stoch(10,3,3) 53.9225 48.6892", fontsize=7, ha='left', va='baseline',
        color='black', zorder=5)
ov.text(1880, 640, "100", fontsize=6.5, ha='left', va='center', color='black', zorder=5)
ov.text(1880, 895, "0", fontsize=6.5, ha='left', va='center', color='black', zorder=5)

fig.savefig("out.png", dpi=100, facecolor='white')
